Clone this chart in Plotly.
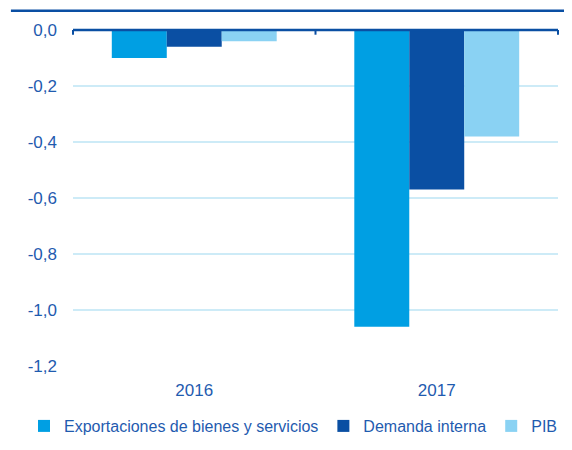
import plotly.graph_objects as go

years = ["2016", "2017"]
exportaciones = [-0.10, -1.06]
demanda_interna = [-0.06, -0.57]
pib = [-0.04, -0.38]

ytick_vals = [0, -0.2, -0.4, -0.6, -0.8, -1.0, -1.2]
ytick_text = ["0,0", "-0,2", "-0,4", "-0,6", "-0,8", "-1,0", "-1,2"]

series = [
    ("Exportaciones de bienes y servicios", exportaciones, "#009FE3"),
    ("Demanda interna", demanda_interna, "#0A4FA3"),
    ("PIB", pib, "#8AD2F3"),
]

text_blue = "#1F5BAF"
line_blue = "#0A4FA3"

fig = go.Figure()
for name, vals, color in series:
    fig.add_trace(go.Bar(x=years, y=vals, name=name,
                         marker=dict(color=color, line=dict(width=0))))

# zero line with category boundary ticks
fig.add_shape(type="line", xref="paper", yref="paper", x0=0, x1=1, y0=1, y1=1,
              line=dict(color=line_blue, width=2.5))
for xb in [0, 0.5, 1]:
    fig.add_shape(type="line", xref="paper", yref="paper", x0=xb, x1=xb, y0=1, y1=0.986,
                  line=dict(color=line_blue, width=2))

# rule under the (cropped) heading
fig.add_shape(type="line", xref="paper", yref="paper", x0=-0.128, x1=1.03,
              y0=1.057, y1=1.057, line=dict(color=line_blue, width=2.5))

# page body has an 8px margin, so the figure is 8px smaller than the window
fig.update_layout(
    width=564, height=442,
    margin=dict(l=65, r=14, t=22, b=84, autoexpand=False),
    paper_bgcolor="white", plot_bgcolor="white",
    barmode="group", bargap=0.32, bargroupgap=0,
    font=dict(family="Liberation Sans, Arial, sans-serif", size=17, color=text_blue),
    showlegend=True,
    legend=dict(orientation="h", x=-0.101, xanchor="left", y=-0.1786, yanchor="middle",
                font=dict(size=16, color=text_blue), itemwidth=30,
                bgcolor="rgba(0,0,0,0)"),
    xaxis=dict(showgrid=False, showline=False, ticks="", ticklabelstandoff=12),
    yaxis=dict(range=[-1.2, 0], tickvals=ytick_vals, ticktext=ytick_text,
               showgrid=True, gridcolor="#CDEBF7", gridwidth=1.5,
               zeroline=False, showline=False, ticks="", ticklabelstandoff=15),
)

fig.write_html("out.html")
